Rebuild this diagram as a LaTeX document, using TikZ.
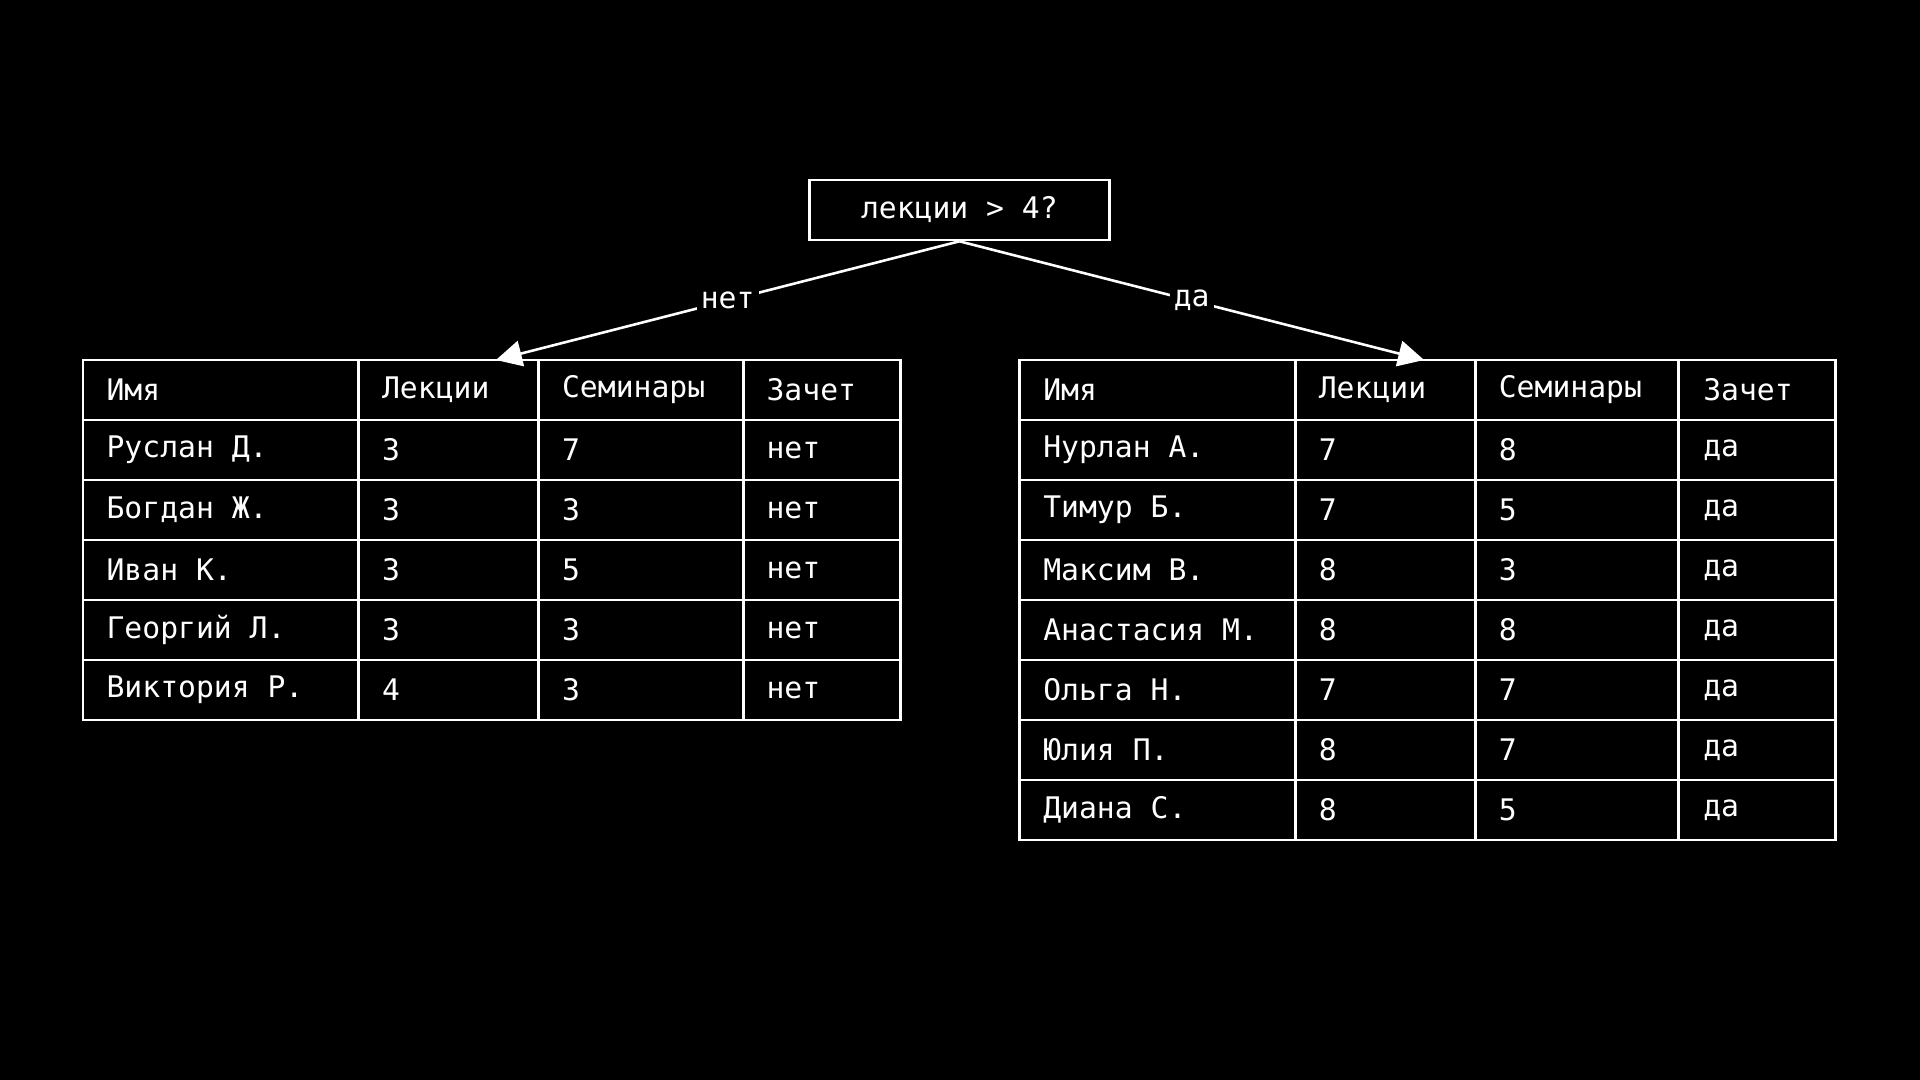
\documentclass[tikz,border=0pt]{standalone}
\usepackage{fontspec}
\setmainfont{DejaVu Sans Mono}
\usetikzlibrary{arrows.meta}
\begin{document}
\begin{tikzpicture}[x=0.01cm,y=-0.01cm,line width=0.6pt,
  txt/.style={text=white,anchor=west,font=\fontsize{6.9pt}{8pt}\selectfont,inner sep=0pt},
  lbl/.style={text=white,fill=black,font=\fontsize{6.9pt}{8pt}\selectfont,inner sep=1pt},
  arr/.style={draw=white,-{Triangle[length=6pt,width=6pt]}}]
\fill[black] (0,0) rectangle (1568,882);
\useasboundingbox (0,0) rectangle (1568,882);
% root
\node[draw=white,minimum width=2.45cm,minimum height=0.49cm,inner sep=0pt,text=white,font=\fontsize{6.9pt}{8pt}\selectfont] (root) at (783.5,171.5) {лекции > 4?};
% left table
\node[draw=white,minimum width=6.67cm,minimum height=2.94cm,inner sep=0pt] (L) at (401.5,441) {};
\foreach \x in {293,440,607} \draw[white] (\x,294) -- (\x,588);
\foreach \y in {343,392,441,490,539} \draw[white] (68,\y) -- (735,\y);
\foreach [count=\r from 0] \a/\b/\c/\d in {Имя/Лекции/Семинары/Зачет,Руслан Д./3/7/нет,Богдан Ж./3/3/нет,Иван К./3/5/нет,Георгий Л./3/3/нет,Виктория Р./4/3/нет}{
  \node[txt] (la\r) at (86,318.5+49*\r) {\a};
  \node[txt] (lb\r) at (311,318.5+49*\r) {\b};
  \node[txt] (lc\r) at (458,318.5+49*\r) {\c};
  \node[txt] (ld\r) at (625,318.5+49*\r) {\d};
}
% right table
\node[draw=white,minimum width=6.66cm,minimum height=3.92cm,inner sep=0pt] (R) at (1166,490) {};
\foreach \x in {1058,1205,1371} \draw[white] (\x,294) -- (\x,686);
\foreach \y in {343,392,441,490,539,588,637} \draw[white] (833,\y) -- (1499,\y);
\foreach [count=\r from 0] \a/\b/\c/\d in {Имя/Лекции/Семинары/Зачет,Нурлан А./7/8/да,Тимур Б./7/5/да,Максим В./8/3/да,Анастасия М./8/8/да,Ольга Н./7/7/да,Юлия П./8/7/да,Диана С./8/5/да}{
  \node[txt] (ra\r) at (851,318.5+49*\r) {\a};
  \node[txt] (rb\r) at (1076,318.5+49*\r) {\b};
  \node[txt] (rc\r) at (1223,318.5+49*\r) {\c};
  \node[txt] (rd\r) at (1390,318.5+49*\r) {\d};
}
\coordinate (lt) at (405,294);
\coordinate (rt) at (1163,294);
\draw[arr] (root.south) -- node[lbl,pos=0.5] {нет} (lt);
\draw[arr] (root.south) -- node[lbl,pos=0.5] {да} (rt);
\end{tikzpicture}
\end{document}
